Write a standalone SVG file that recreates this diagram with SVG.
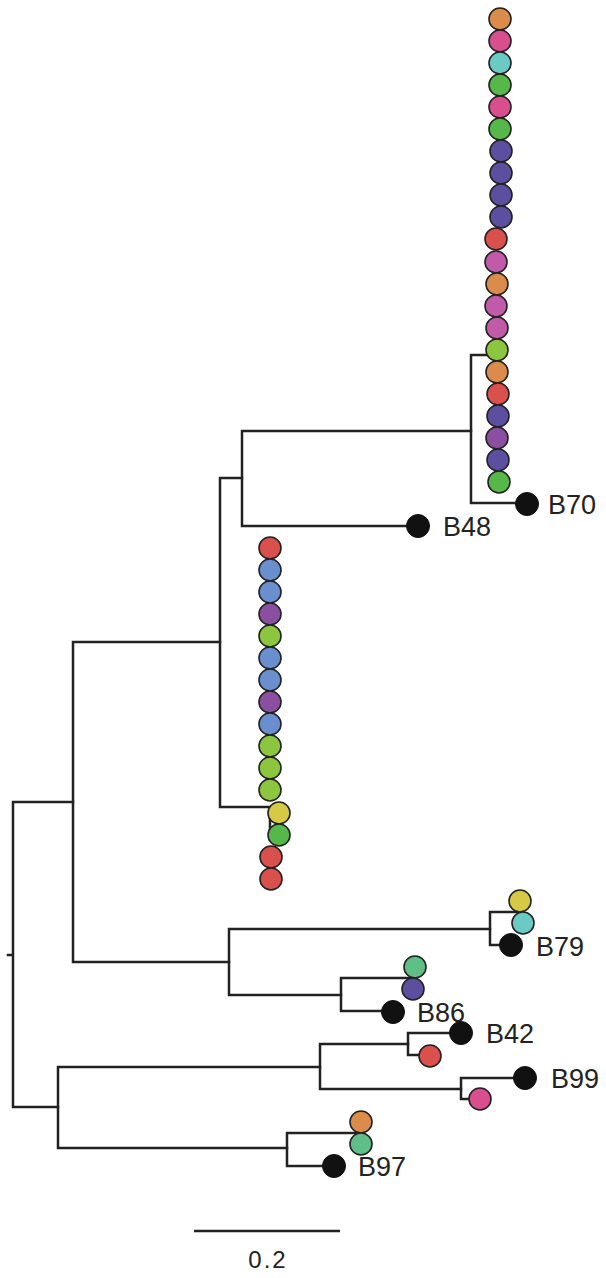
<svg xmlns="http://www.w3.org/2000/svg" width="606" height="1278" viewBox="0 0 606 1278">
  <style>
    .br { fill: none; stroke: #222; stroke-width: 2.5; stroke-linecap: square; }
    .tip { stroke: #222; stroke-width: 1.6; }
    .ref { fill: #111; stroke: #111; stroke-width: 1; }
    .lbl { font-family: "Liberation Sans", Arial, sans-serif; font-size: 27px; fill: #222; }
    .orange { fill: #db8c4b; }
    .pink { fill: #d94f8e; }
    .cyan { fill: #6ccac4; }
    .green { fill: #55b848; }
    .indigo { fill: #5d4f9f; }
    .red { fill: #d9504d; }
    .orchid { fill: #c15aa8; }
    .lime { fill: #8cc63f; }
    .blue { fill: #6a8fcf; }
    .violet { fill: #8a4fa0; }
    .yellow { fill: #d6c944; }
    .mint { fill: #5fbf86; }
  </style>
  <rect width="606" height="1278" fill="#ffffff"/>

  <!-- tree branches -->
  <g id="connectors">
    <!-- root -->
    <path class="br" d="M8,955 H13 M13,802 V1107 M13,802 H73 M13,1107 H58"/>
    <!-- upper clade -->
    <path class="br" d="M73,642 V962 M73,642 H220 M73,962 H229"/>
    <path class="br" d="M220,478 V807 M220,478 H242 M220,807 H270 V835"/>
    <path class="br" d="M242,431 V526 M242,431 H471 M242,526 H418"/>
    <path class="br" d="M471,355 V503 M471,355 H497 M471,503 H525"/>
    <!-- B79 / B86 clade -->
    <path class="br" d="M229,929 V995 M229,929 H490 M229,995 H341"/>
    <path class="br" d="M490,912 V945 M490,912 H520 M490,945 H511"/>
    <path class="br" d="M341,978 V1011 M341,978 H415 M341,1011 H393"/>
    <!-- lower clade -->
    <path class="br" d="M58,1067 V1148 M58,1067 H320 M58,1148 H287"/>
    <path class="br" d="M320,1044 V1089 M320,1044 H408 M320,1089 H461"/>
    <path class="br" d="M408,1033 V1055 M408,1033 H461 M408,1055 H430"/>
    <path class="br" d="M461,1078 V1099 M461,1078 H525 M461,1099 H480"/>
    <path class="br" d="M287,1133 V1166 M287,1133 H361 M287,1166 H334"/>
  </g>

  <!-- tip column next to B70 -->
  <g id="clade-b70-tips" class="tip">
    <circle class="orange" cx="500" cy="19" r="11"/>
    <circle class="pink" cx="500" cy="41" r="11"/>
    <circle class="cyan" cx="500" cy="63" r="11"/>
    <circle class="green" cx="500" cy="85" r="11"/>
    <circle class="pink" cx="500" cy="107" r="11"/>
    <circle class="green" cx="500" cy="129" r="11"/>
    <circle class="indigo" cx="501" cy="151" r="11"/>
    <circle class="indigo" cx="501" cy="173" r="11"/>
    <circle class="indigo" cx="501" cy="195" r="11"/>
    <circle class="indigo" cx="501" cy="217" r="11"/>
    <circle class="red" cx="496" cy="239" r="11"/>
    <circle class="orchid" cx="496" cy="262" r="11"/>
    <circle class="orange" cx="497" cy="284" r="11"/>
    <circle class="orchid" cx="496" cy="306" r="11"/>
    <circle class="orchid" cx="497" cy="328" r="11"/>
    <circle class="lime" cx="497" cy="350" r="11"/>
    <circle class="orange" cx="497" cy="372" r="11"/>
    <circle class="red" cx="498" cy="394" r="11"/>
    <circle class="indigo" cx="498" cy="416" r="11"/>
    <circle class="violet" cx="497" cy="438" r="11"/>
    <circle class="indigo" cx="498" cy="460" r="11"/>
    <circle class="green" cx="499" cy="482" r="11"/>
  </g>

  <g id="node-b70">
    <circle class="ref" cx="527" cy="504" r="11.5"/>
    <text class="lbl" x="548" y="514">B70</text>
  </g>

  <g id="node-b48">
    <circle class="ref" cx="418" cy="526" r="11.5"/>
    <text class="lbl" x="443" y="536">B48</text>
  </g>

  <!-- middle tip column -->
  <g id="clade-mid-tips" class="tip">
    <circle class="red" cx="270" cy="548" r="11"/>
    <circle class="blue" cx="270" cy="570" r="11"/>
    <circle class="blue" cx="270" cy="592" r="11"/>
    <circle class="violet" cx="270" cy="614" r="11"/>
    <circle class="lime" cx="270" cy="636" r="11"/>
    <circle class="blue" cx="270" cy="658" r="11"/>
    <circle class="blue" cx="270" cy="680" r="11"/>
    <circle class="violet" cx="270" cy="702" r="11"/>
    <circle class="blue" cx="270" cy="724" r="11"/>
    <circle class="lime" cx="270" cy="746" r="11"/>
    <circle class="lime" cx="270" cy="768" r="11"/>
    <circle class="lime" cx="270" cy="790" r="11"/>
    <circle class="yellow" cx="279" cy="813" r="11"/>
    <circle class="green" cx="279" cy="835" r="11"/>
    <circle class="red" cx="271" cy="857" r="11"/>
    <circle class="red" cx="271" cy="879" r="11"/>
  </g>

  <g id="node-b79">
    <circle class="tip yellow" cx="520" cy="901" r="11"/>
    <circle class="tip cyan" cx="523" cy="923" r="11"/>
    <circle class="ref" cx="511" cy="945" r="11.5"/>
    <text class="lbl" x="536" y="956">B79</text>
  </g>

  <g id="node-b86">
    <circle class="tip mint" cx="415" cy="967" r="11"/>
    <circle class="tip indigo" cx="413" cy="989" r="11"/>
    <circle class="ref" cx="393" cy="1012" r="11.5"/>
    <text class="lbl" x="417" y="1022">B86</text>
  </g>

  <g id="node-b42">
    <circle class="ref" cx="461" cy="1033" r="11.5"/>
    <circle class="tip red" cx="430" cy="1056" r="11"/>
    <text class="lbl" x="486" y="1043">B42</text>
  </g>

  <g id="node-b99">
    <circle class="ref" cx="525" cy="1078" r="11.5"/>
    <circle class="tip pink" cx="480" cy="1099" r="11"/>
    <text class="lbl" x="551" y="1088">B99</text>
  </g>

  <g id="node-b97">
    <circle class="tip orange" cx="361" cy="1122" r="11"/>
    <circle class="tip mint" cx="361" cy="1144" r="11"/>
    <circle class="ref" cx="334" cy="1166" r="11.5"/>
    <text class="lbl" x="358" y="1176">B97</text>
  </g>

  <!-- scale bar -->
  <g id="scale-bar">
    <line class="br" x1="194" y1="1231" x2="340" y2="1231" style="stroke-linecap:butt"/>
    <text x="268" y="1268" text-anchor="middle" font-family="Liberation Sans, Arial, sans-serif" font-size="24" letter-spacing="2" fill="#222">0.2</text>
  </g>
</svg>
